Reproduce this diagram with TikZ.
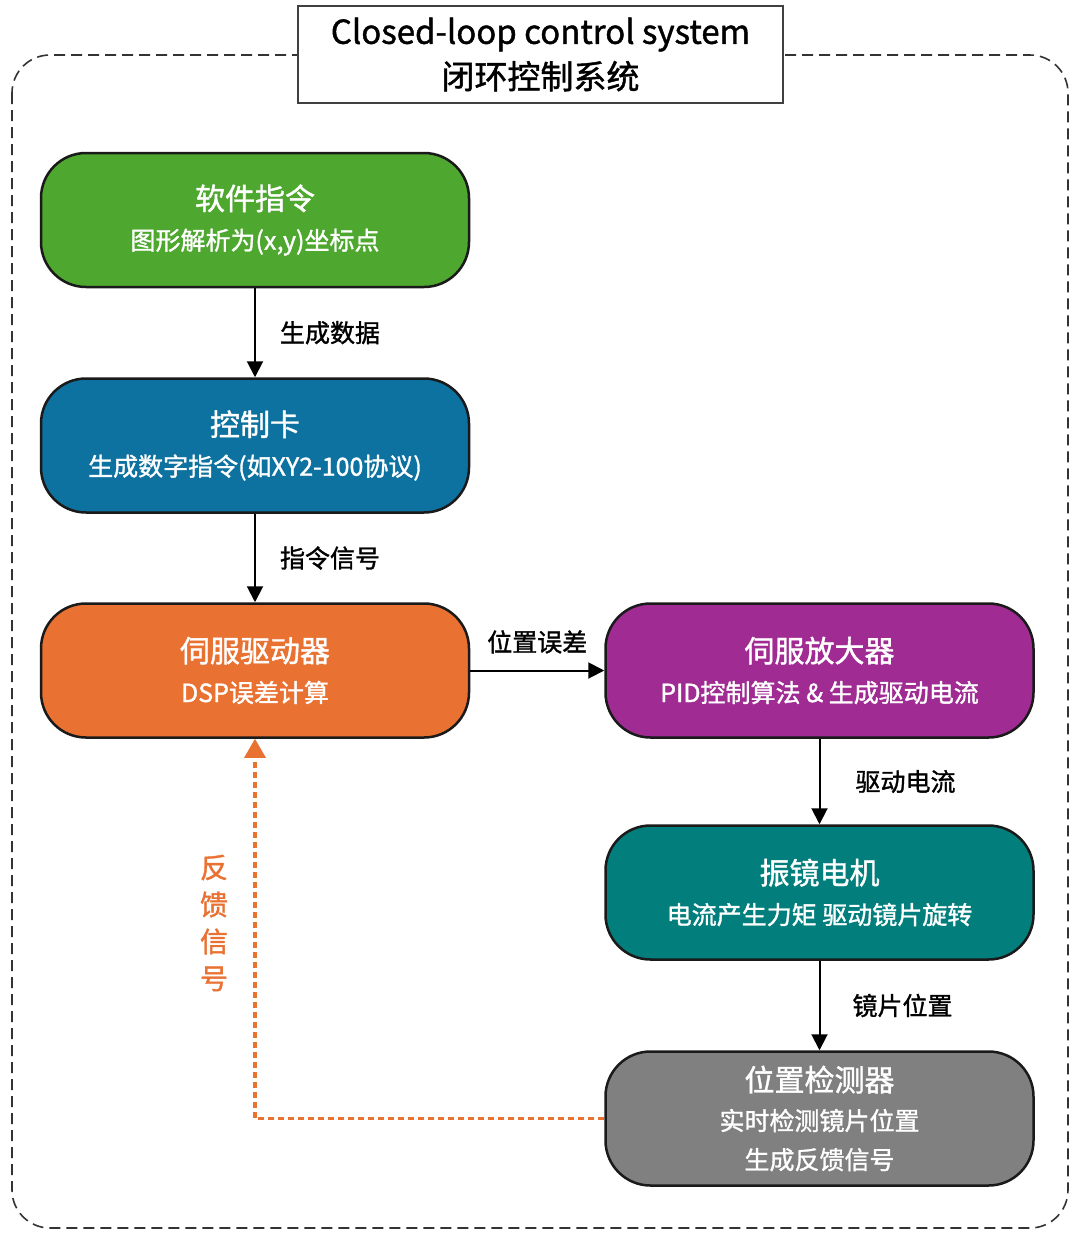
\documentclass[tikz,border=0pt]{standalone}
\usepackage{fontspec}
\setmainfont{Noto Sans CJK SC}[FakeBold=1.3]
\usetikzlibrary{arrows.meta,positioning}
\definecolor{cgreen}{HTML}{4EA72E}
\definecolor{cblue}{HTML}{0E72A0}
\definecolor{corange}{HTML}{E97132}
\definecolor{cpurple}{HTML}{A02B93}
\definecolor{cteal}{HTML}{027F7D}
\definecolor{cgray}{HTML}{808080}
\definecolor{cline}{HTML}{1A1A1A}
\newcommand{\bt}[1]{{\fontsize{30}{40}\selectfont #1}}
\begin{document}
\begin{tikzpicture}[x=1pt,y=-1pt,
  box/.style={draw=cline, line width=2.5pt, rounded corners=45pt,
    minimum width=428pt, minimum height=134pt, text=white, align=center,
    font=\fontsize{25}{40}\selectfont, inner sep=0pt},
  arr/.style={draw=black, line width=2pt, -{Triangle[width=16pt,length=16pt]}},
  fb/.style={draw=corange, line width=3.2pt, dash pattern=on 6pt off 4pt,
    -{Triangle[width=21pt,length=19pt]}},
  lbl/.style={font=\fontsize{25}{30}\selectfont, inner sep=0pt, text=black},
  outer/.style={draw=black!80, line width=1.6pt, dash pattern=on 11pt off 6pt, rounded corners=38pt}
]
\useasboundingbox (0,0) rectangle (1080,1243);
\draw[outer] (12,55) rectangle (1068,1228);
\node[draw=black!75, line width=2pt, fill=white, minimum width=485pt, minimum height=97pt,
  align=center, inner sep=0pt, font=\fontsize{33}{45}\selectfont] (title) at (540.5,54.5)
  {Closed-loop control system\\闭环控制系统};

\node[box, fill=cgreen] (sw) at (255,220) {\bt{软件指令}\\图形解析为(x,y)坐标点};
\node[box, fill=cblue] (cc) at (255,445.5) {\bt{控制卡}\\生成数字指令(如XY2-100协议)};
\node[box, fill=corange] (drv) at (255,670.5) {\bt{伺服驱动器}\\DSP误差计算};
\node[box, fill=cpurple] (amp) at (819.5,670.5) {\bt{伺服放大器}\\PID控制算法 \& 生成驱动电流};
\node[box, fill=cteal] (mot) at (819.5,892.5) {\bt{振镜电机}\\电流产生力矩 驱动镜片旋转};
\node[box, fill=cgray, font=\fontsize{25}{39}\selectfont] (det) at (819.5,1118.5)
  {\bt{位置检测器}\\实时检测镜片位置\\生成反馈信号};

\draw[arr] (sw) -- node[lbl, right=24pt] {生成数据} (cc);
\draw[arr] (cc) -- node[lbl, right=24pt] {指令信号} (drv);
\draw[arr] (drv) -- node[lbl, above=16pt] {位置误差} (amp);
\draw[arr] (amp) -- node[lbl, right=35pt] {驱动电流} (mot);
\draw[arr] (mot) -- node[lbl, right=32pt] {镜片位置} (det);
\draw[fb] (det.west) -| (drv.south);
\node[align=center, text=corange, inner sep=0pt, font=\fontsize{28}{37}\selectfont] (fbl) at (214,923)
  {反\\馈\\信\\号};
\end{tikzpicture}
\end{document}
